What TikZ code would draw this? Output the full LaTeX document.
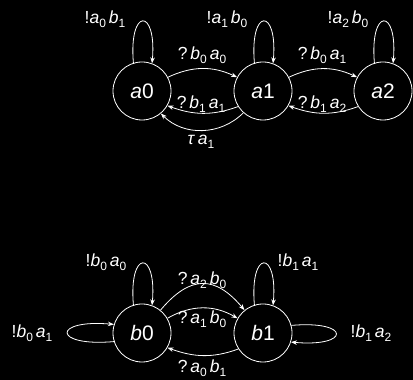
\documentclass[tikz,border=0pt]{standalone}
\usepackage{fontspec}
\setmainfont{Liberation Sans}
\usetikzlibrary{arrows.meta}
\newcommand\vv[1]{\textit{#1}}
\newcommand\sbx[1]{\raisebox{-0.4ex}{\fontsize{12}{12}\selectfont #1}}
\begin{document}
\begin{tikzpicture}[x=1pt,y=1pt,
  state/.style={draw=white,line width=0.8pt,circle,minimum size=58pt,inner sep=0pt,text=white,font=\fontsize{21}{21}\selectfont\itshape},
  lbl/.style={text=white,inner sep=0pt,font=\fontsize{17.5}{17.5}\selectfont},
  arr/.style={draw=white,line width=0.8pt,-{Stealth[length=6pt,width=4.5pt]}}]
\fill[black] (0,0) rectangle (413,380);
\useasboundingbox (0,0) rectangle (413,380);
\node[state] (a0) at (142,289) {a\upshape0};
\node[state] (a1) at (263,289) {a\upshape1};
\node[state] (a2) at (383,289) {a\upshape2};
\node[state] (b0) at (142,47) {b\upshape0};
\node[state] (b1) at (263,47) {b\upshape1};
% labels
\node[lbl] (l1) at (202,325) {?\,\vv{b}\sbx{0}\,\vv{a}\sbx{0}};
\node[lbl] (l2) at (201,276) {?\,\vv{b}\sbx{1}\,\vv{a}\sbx{1}};
\node[lbl] (l3) at (201,238) {\vv{τ}\,\vv{a}\sbx{1}};
\node[lbl] (l4) at (105,361) {!\vv{a}\sbx{0}\,\vv{b}\sbx{1}};
\node[lbl] (l5) at (227,361) {!\vv{a}\sbx{1}\,\vv{b}\sbx{0}};
\node[lbl] (l6) at (348,361) {!\vv{a}\sbx{2}\,\vv{b}\sbx{0}};
\node[lbl] (l7) at (322,325) {?\,\vv{b}\sbx{0}\,\vv{a}\sbx{1}};
\node[lbl] (l8) at (322,276) {?\,\vv{b}\sbx{1}\,\vv{a}\sbx{2}};
\node[lbl] (l9) at (106,118) {!\vv{b}\sbx{0}\,\vv{a}\sbx{0}};
\node[lbl] (l10) at (298,118) {!\vv{b}\sbx{1}\,\vv{a}\sbx{1}};
\node[lbl] (l11) at (32,47) {!\vv{b}\sbx{0}\,\vv{a}\sbx{1}};
\node[lbl] (l12) at (371,47) {!\vv{b}\sbx{1}\,\vv{a}\sbx{2}};
\node[lbl] (l13) at (202,100) {?\,\vv{a}\sbx{2}\,\vv{b}\sbx{0}};
\node[lbl] (l14) at (202,61) {?\,\vv{a}\sbx{1}\,\vv{b}\sbx{0}};
\node[lbl] (l15) at (202,12) {?\,\vv{a}\sbx{0}\,\vv{b}\sbx{1}};
% loops
\draw[arr] (a0.107) .. controls +(95:56) and +(85:56) .. (a0.70);
\draw[arr] (a1.107) .. controls +(95:56) and +(85:56) .. (a1.70);
\draw[arr] (a2.107) .. controls +(95:56) and +(85:56) .. (a2.70);
\draw[arr] (b0.107) .. controls +(95:56) and +(85:56) .. (b0.70);
\draw[arr] (b1.107) .. controls +(95:56) and +(85:56) .. (b1.70);
\draw[arr] (b0.197) .. controls +(185:62) and +(175:62) .. (b0.163);
\draw[arr] (b1.15) .. controls +(5:60) and +(-5:60) .. (b1.-18);
% arcs
\draw[arr] (a0.28) to[out=25,in=155] (a1.152);
\draw[arr] (a1.212) to[out=200,in=-20] (a0.330);
\draw[arr] (a1.228) to[out=225,in=-45] (a0.310);
\draw[arr] (a1.28) to[out=25,in=155] (a2.152);
\draw[arr] (a2.212) to[out=200,in=-20] (a1.330);
\draw[arr] (b0.51) to[out=50,in=130,looseness=1.4] (b1.129);
\draw[arr] (b0.30) to[out=30,in=150] (b1.150);
\draw[arr] (b1.213) to[out=200,in=-20] (b0.330);
\end{tikzpicture}
\end{document}
